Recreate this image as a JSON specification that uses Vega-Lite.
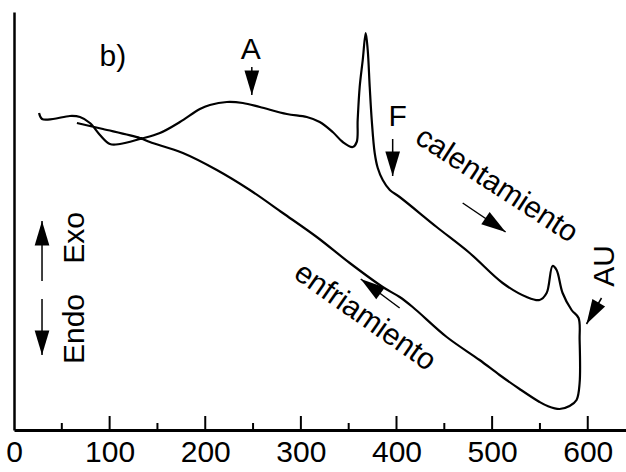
{
  "$schema": "https://vega.github.io/schema/vega-lite/v6.json",
  "width": 612,
  "height": 418,
  "autosize": {"type": "none"},
  "padding": {"left": 14, "top": 12, "right": 0, "bottom": 42},
  "background": "white",
  "config": {"view": {"stroke": null}, "font": "Liberation Sans"},
  "datasets": {
    "curve": [
      {"i": 1, "t": 26.2, "s": 317}, {"i": 2, "t": 29.3, "s": 311}, {"i": 3, "t": 40.8, "s": 311},
      {"i": 4, "t": 58.5, "s": 314}, {"i": 5, "t": 69.0, "s": 313}, {"i": 6, "t": 79.4, "s": 307},
      {"i": 7, "t": 89.9, "s": 295}, {"i": 8, "t": 100.3, "s": 286}, {"i": 9, "t": 110.8, "s": 286},
      {"i": 10, "t": 131.7, "s": 291}, {"i": 11, "t": 152.6, "s": 297}, {"i": 12, "t": 173.5, "s": 308},
      {"i": 13, "t": 194.4, "s": 321}, {"i": 14, "t": 204.8, "s": 325}, {"i": 15, "t": 222.6, "s": 328},
      {"i": 16, "t": 239.3, "s": 327}, {"i": 17, "t": 257.1, "s": 323}, {"i": 18, "t": 285.3, "s": 316},
      {"i": 19, "t": 306.2, "s": 313}, {"i": 20, "t": 319.7, "s": 308}, {"i": 21, "t": 333.3, "s": 298},
      {"i": 22, "t": 343.8, "s": 288}, {"i": 23, "t": 354.2, "s": 283}, {"i": 24, "t": 358.4, "s": 288},
      {"i": 25, "t": 359.4, "s": 310}, {"i": 26, "t": 361.5, "s": 343}, {"i": 27, "t": 364.7, "s": 370},
      {"i": 28, "t": 367.8, "s": 397}, {"i": 29, "t": 369.9, "s": 380}, {"i": 30, "t": 372.0, "s": 343},
      {"i": 31, "t": 374.1, "s": 310}, {"i": 32, "t": 377.2, "s": 277}, {"i": 33, "t": 380.4, "s": 262},
      {"i": 34, "t": 385.6, "s": 250}, {"i": 35, "t": 393.0, "s": 240}, {"i": 36, "t": 403.3, "s": 233},
      {"i": 37, "t": 442.0, "s": 203}, {"i": 38, "t": 476.5, "s": 177}, {"i": 39, "t": 511.0, "s": 147},
      {"i": 40, "t": 536.1, "s": 133}, {"i": 41, "t": 549.6, "s": 130}, {"i": 42, "t": 557.0, "s": 137},
      {"i": 43, "t": 563.2, "s": 164}, {"i": 44, "t": 567.4, "s": 160}, {"i": 45, "t": 573.7, "s": 137},
      {"i": 46, "t": 583.1, "s": 120}, {"i": 47, "t": 590.4, "s": 112}, {"i": 48, "t": 591.5, "s": 90},
      {"i": 49, "t": 591.5, "s": 47}, {"i": 50, "t": 588.3, "s": 30}, {"i": 51, "t": 581.0, "s": 24},
      {"i": 52, "t": 570.5, "s": 21}, {"i": 53, "t": 558.0, "s": 24}, {"i": 54, "t": 549.6, "s": 28},
      {"i": 55, "t": 528.7, "s": 41}, {"i": 56, "t": 507.8, "s": 55}, {"i": 57, "t": 486.9, "s": 70},
      {"i": 58, "t": 452.5, "s": 93}, {"i": 59, "t": 416.9, "s": 123}, {"i": 60, "t": 403.3, "s": 133},
      {"i": 61, "t": 385.6, "s": 143}, {"i": 62, "t": 351.1, "s": 167}, {"i": 63, "t": 316.6, "s": 193},
      {"i": 64, "t": 281.1, "s": 217}, {"i": 65, "t": 246.6, "s": 240}, {"i": 66, "t": 212.1, "s": 260},
      {"i": 67, "t": 176.6, "s": 277}, {"i": 68, "t": 142.1, "s": 288}, {"i": 69, "t": 131.7, "s": 292},
      {"i": 70, "t": 93.0, "s": 301}, {"i": 71, "t": 65.8, "s": 307}
    ],
    "majors": [{"t": 100}, {"t": 200}, {"t": 300}, {"t": 400}, {"t": 500}, {"t": 600}],
    "minors": [{"t": 50}, {"t": 150}, {"t": 250}, {"t": 350}, {"t": 450}, {"t": 550}],
    "arrows": [
      {"name": "A", "x": 248.7, "y": 363, "x2": 248.7, "y2": 335},
      {"name": "F", "x": 396.0, "y": 291, "x2": 396.0, "y2": 254},
      {"name": "calentamiento", "x": 469.2, "y": 227, "x2": 514.1, "y2": 198},
      {"name": "enfriamiento", "x": 403.3, "y": 122, "x2": 362.6, "y2": 151},
      {"name": "AU", "x": 614.4, "y": 132, "x2": 598.7, "y2": 106},
      {"name": "Exo", "x": 29.3, "y": 149, "x2": 29.3, "y2": 209},
      {"name": "Endo", "x": 29.3, "y": 131, "x2": 29.3, "y2": 75}
    ],
    "labels": [
      {"text": "b)", "x": 103.4, "y": 373, "kind": "h"},
      {"text": "A", "x": 247.6, "y": 380, "kind": "h"},
      {"text": "F", "x": 401.3, "y": 313, "kind": "h"},
      {"text": "Exo", "x": 63.7, "y": 192, "kind": "v"},
      {"text": "Endo", "x": 63.7, "y": 101, "kind": "v"},
      {"text": "AU", "x": 617.6, "y": 164, "kind": "v"},
      {"text": "calentamiento", "x": 504.7, "y": 245, "kind": "cal"},
      {"text": "enfriamiento", "x": 367.0, "y": 113, "kind": "enf"}
    ]
  },
  "layer": [
    {
      "data": {"name": "curve"},
      "mark": {"type": "line", "color": "black", "strokeWidth": 2.2, "interpolate": "catmull-rom"},
      "encoding": {
        "x": {
          "field": "t", "type": "quantitative",
          "scale": {"domain": [0, 640], "nice": false, "zero": false},
          "axis": {
            "values": [0, 100, 200, 300, 400, 500, 600], "ticks": false, "grid": false, "title": null,
            "domainColor": "black", "domainWidth": 3, "labelFontSize": 30, "labelColor": "black",
            "labelPadding": 7, "labelFlush": false, "labelFont": "Liberation Sans"
          }
        },
        "y": {
          "field": "s", "type": "quantitative",
          "scale": {"domain": [0, 418], "nice": false, "zero": false},
          "axis": {"ticks": false, "labels": false, "grid": false, "title": null, "domainColor": "black", "domainWidth": 2.5}
        },
        "order": {"field": "i", "type": "quantitative"}
      }
    },
    {
      "mark": {"type": "rule", "color": "black", "strokeWidth": 3},
      "encoding": {"x": {"datum": 0}, "x2": {"datum": 640}, "y": {"datum": 418}}
    },
    {
      "data": {"name": "majors"},
      "mark": {"type": "rule", "color": "black", "strokeWidth": 2},
      "encoding": {"x": {"field": "t", "type": "quantitative"}, "y": {"datum": 0}, "y2": {"datum": 14}}
    },
    {
      "data": {"name": "minors"},
      "mark": {"type": "rule", "color": "black", "strokeWidth": 2},
      "encoding": {"x": {"field": "t", "type": "quantitative"}, "y": {"datum": 0}, "y2": {"datum": 7}}
    },
    {
      "data": {"name": "arrows"},
      "mark": {"type": "rule", "color": "black", "strokeWidth": 1.5},
      "encoding": {
        "x": {"field": "x", "type": "quantitative"}, "y": {"field": "y", "type": "quantitative"},
        "x2": {"field": "x2"}, "y2": {"field": "y2"}
      }
    },
    {
      "data": {"name": "arrows"},
      "mark": {"type": "point", "filled": true, "color": "black", "opacity": 1, "size": 2400, "shape": "M0,0L0.3,1L-0.3,1Z"},
      "encoding": {
        "x": {"field": "x2", "type": "quantitative"}, "y": {"field": "y2", "type": "quantitative"},
        "angle": {
          "field": "name", "type": "nominal",
          "scale": {"type": "ordinal", "domain": ["A", "F", "calentamiento", "enfriamiento", "AU", "Exo", "Endo"], "range": [180, 180, 124.6, 306, 210, 0, 180]}
        }
      }
    },
    {
      "data": {"name": "labels"},
      "transform": [{"filter": "datum.kind === 'h'"}],
      "mark": {"type": "text", "fontSize": 30, "color": "black", "align": "center", "baseline": "middle", "font": "Liberation Sans"},
      "encoding": {"x": {"field": "x", "type": "quantitative"}, "y": {"field": "y", "type": "quantitative"}, "text": {"field": "text"}}
    },
    {
      "data": {"name": "labels"},
      "transform": [{"filter": "datum.kind === 'v'"}],
      "mark": {"type": "text", "fontSize": 30, "color": "black", "align": "center", "baseline": "middle", "angle": 270, "font": "Liberation Sans"},
      "encoding": {"x": {"field": "x", "type": "quantitative"}, "y": {"field": "y", "type": "quantitative"}, "text": {"field": "text"}}
    },
    {
      "data": {"name": "labels"},
      "transform": [{"filter": "datum.kind === 'cal'"}],
      "mark": {"type": "text", "fontSize": 30, "color": "black", "align": "center", "baseline": "middle", "angle": 33, "font": "Liberation Sans"},
      "encoding": {"x": {"field": "x", "type": "quantitative"}, "y": {"field": "y", "type": "quantitative"}, "text": {"field": "text"}}
    },
    {
      "data": {"name": "labels"},
      "transform": [{"filter": "datum.kind === 'enf'"}],
      "mark": {"type": "text", "fontSize": 30, "color": "black", "align": "center", "baseline": "middle", "angle": 35, "font": "Liberation Sans"},
      "encoding": {"x": {"field": "x", "type": "quantitative"}, "y": {"field": "y", "type": "quantitative"}, "text": {"field": "text"}}
    }
  ]
}
